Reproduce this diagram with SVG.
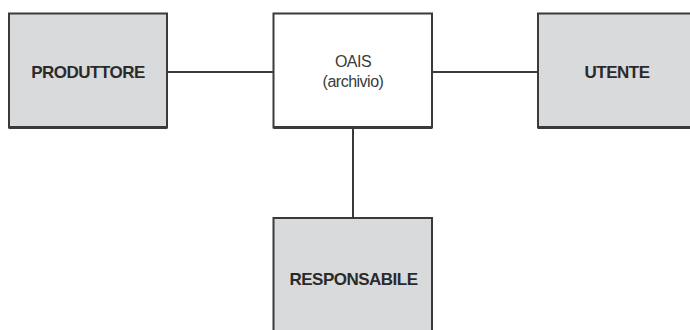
<svg xmlns="http://www.w3.org/2000/svg" width="690" height="330" viewBox="0 0 690 330">
<style>
.box{stroke:#3a3a3a;stroke-width:2}
.g{fill:#d9dadc}
.w{fill:#ffffff}
.lbl{font-family:"Liberation Sans",Arial,sans-serif;font-weight:bold;font-size:17px;fill:#2a2a2a;text-anchor:middle;letter-spacing:-0.5px}
.reg{font-family:"Liberation Sans",Arial,sans-serif;font-size:16px;fill:#3a3a3a;text-anchor:middle;letter-spacing:-0.5px}
.conn{stroke:#3a3a3a;stroke-width:2;fill:none}
</style>
<rect width="690" height="330" fill="#ffffff"/>
<g id="connectors">
<line class="conn" x1="168" y1="72" x2="273" y2="72"/>
<line class="conn" x1="432" y1="72" x2="538" y2="72"/>
<line class="conn" x1="353" y1="128" x2="353" y2="218"/>
</g>
<g id="produttore">
<rect class="box g" x="9" y="13.5" width="158" height="114"/>
<line x1="9" y1="127.5" x2="167" y2="127.5" stroke="#3a3a3a" stroke-width="3"/>
<text class="lbl" x="88" y="78">PRODUTTORE</text>
</g>
<g id="oais">
<rect class="box w" x="273.5" y="13.5" width="158.5" height="114"/>
<line x1="273.5" y1="127.5" x2="432" y2="127.5" stroke="#3a3a3a" stroke-width="3"/>
<text class="reg" x="353" y="67">OAIS</text>
<text class="reg" x="353" y="87">(archivio)</text>
</g>
<g id="utente">
<rect class="box g" x="538" y="13.5" width="158" height="114"/>
<line x1="538" y1="127.5" x2="696" y2="127.5" stroke="#3a3a3a" stroke-width="3"/>
<text class="lbl" x="617" y="78">UTENTE</text>
</g>
<g id="responsabile">
<rect class="box g" x="273.5" y="218" width="158.5" height="120"/>
<text class="lbl" x="353.5" y="285">RESPONSABILE</text>
</g>
</svg>
